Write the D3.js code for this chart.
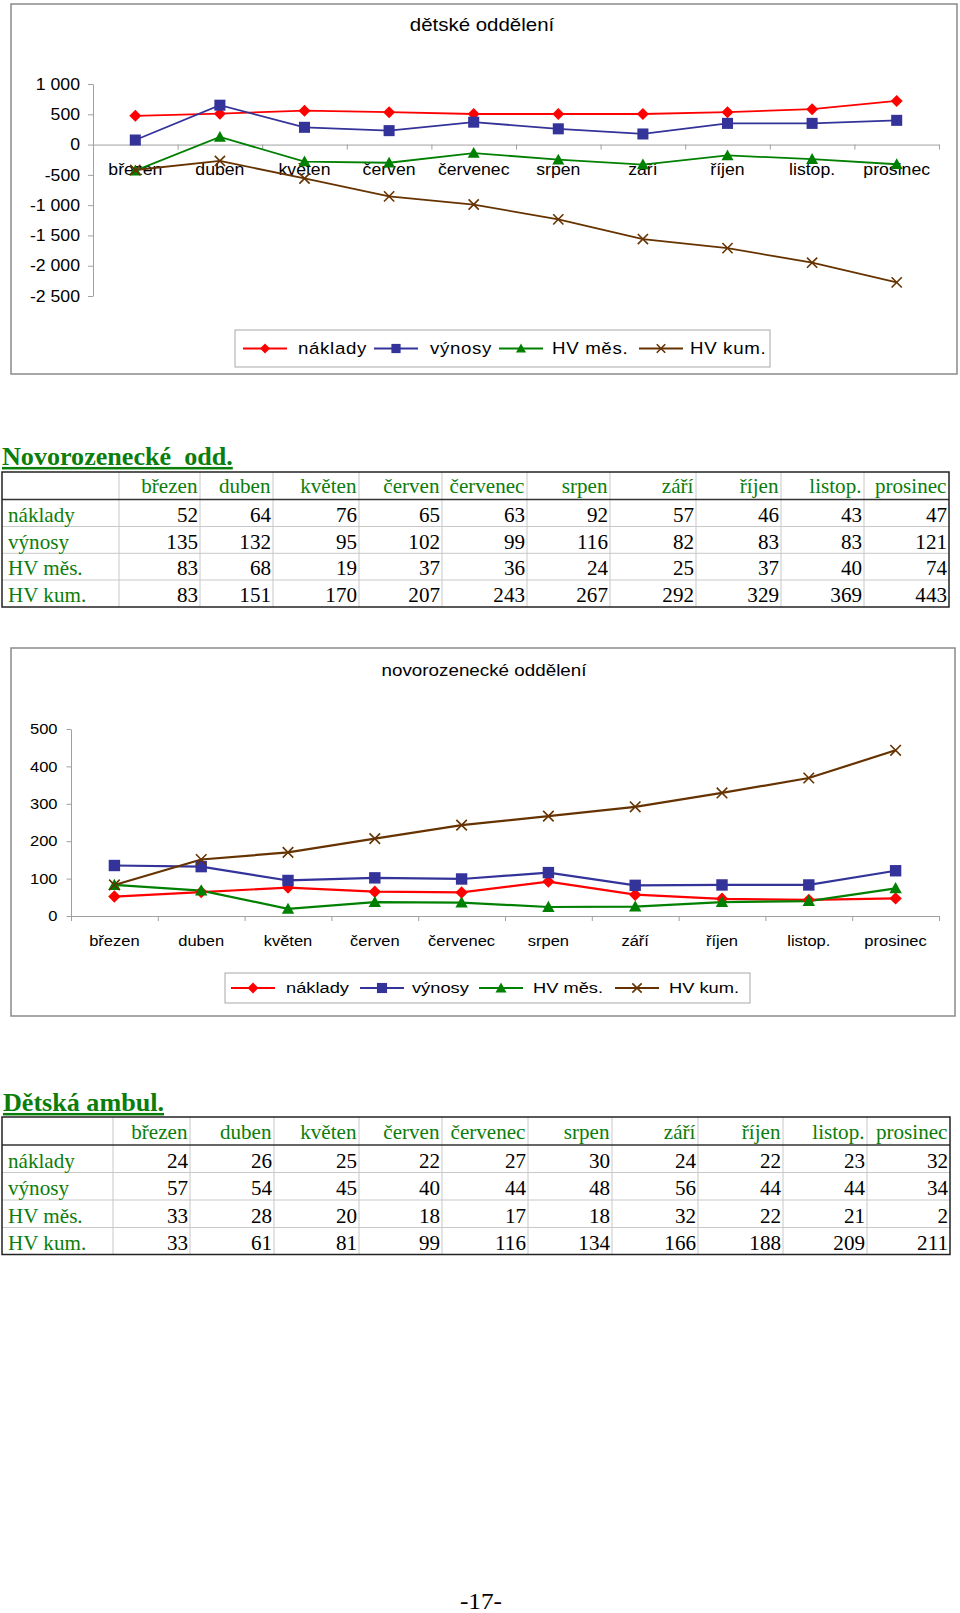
<!DOCTYPE html>
<html><head><meta charset="utf-8">
<script src="https://cdn.jsdelivr.net/npm/d3@7"></script>
<style>
body{margin:0;background:#fff}
svg{display:block}
.sans{font-family:"Liberation Sans",Arial,sans-serif}
.serif{font-family:"Liberation Serif","Times New Roman",serif}
</style>
</head><body>
<svg id="page" width="960" height="1613"></svg>
<script>
// ---------------- DATA ----------------
const months = ["březen","duben","květen","červen","červenec","srpen","září","říjen","listop.","prosinec"];
const seriesNames = ["náklady","výnosy","HV měs.","HV kum."];

// dětské oddělení
const det_naklady = [475, 510, 560, 535, 505, 505, 505, 535, 585, 720];
const det_vynosy  = [75, 650, 285, 230, 370, 260, 175, 350, 350, 400];
const det_hvmes   = [-430, 125, -280, -300, -140, -250, -330, -180, -240, -325];
const det_hvkum   = [-420, -270, -560, -855, -990, -1235, -1560, -1710, -1950, -2275];
const det_ticks   = [1000, 500, 0, -500, -1000, -1500, -2000, -2500];

// Novorozenecké odd.
const novo_naklady = [52, 64, 76, 65, 63, 92, 57, 46, 43, 47];
const novo_vynosy  = [135, 132, 95, 102, 99, 116, 82, 83, 83, 121];
const novo_hvmes   = [83, 68, 19, 37, 36, 24, 25, 37, 40, 74];
const novo_hvkum   = [83, 151, 170, 207, 243, 267, 292, 329, 369, 443];
const novo_ticks   = [0, 100, 200, 300, 400, 500];

// Dětská ambul.
const amb_naklady = [24, 26, 25, 22, 27, 30, 24, 22, 23, 32];
const amb_vynosy  = [57, 54, 45, 40, 44, 48, 56, 44, 44, 34];
const amb_hvmes   = [33, 28, 20, 18, 17, 18, 32, 22, 21, 2];
const amb_hvkum   = [33, 61, 81, 99, 116, 134, 166, 188, 209, 211];

// ---------------- STYLE ----------------
const colors = ["#FF0000", "#333399", "#008000", "#663300"];
const markerTypes = ["diamond", "square", "triangle", "x"];
const axisGray = "#a0a0a0";
const green = "#0b7d0b";

const svg = d3.select("#page");
const fmt = d3.formatLocale({decimal: ",", thousands: " ", grouping: [3], currency: ["", ""], minus: "-"}).format(",");

function stretch(sel, sx) {
  sel.each(function () {
    const t = d3.select(this);
    const x = +t.attr("x") || 0;
    t.attr("transform", `translate(${x},0) scale(${sx},1) translate(${-x},0)`);
  });
}

function marker(g, type, cx, cy, r, color) {
  if (type === "diamond") {
    g.append("path").attr("d", `M${cx},${cy - r}L${cx + r},${cy}L${cx},${cy + r}L${cx - r},${cy}Z`).attr("fill", color);
  } else if (type === "square") {
    g.append("rect").attr("x", cx - r * 0.92).attr("y", cy - r * 0.92).attr("width", r * 1.84).attr("height", r * 1.84).attr("fill", color);
  } else if (type === "triangle") {
    g.append("path").attr("d", `M${cx},${cy - r}L${cx + r},${cy + r * 0.8}L${cx - r},${cy + r * 0.8}Z`).attr("fill", color);
  } else {
    const k = r * 0.85;
    g.append("path").attr("d", `M${cx - k},${cy - k}L${cx + k},${cy + k}M${cx - k},${cy + k}L${cx + k},${cy - k}`)
      .attr("stroke", color).attr("stroke-width", 1.6).attr("fill", "none");
  }
}

function drawChart(c) {
  const g = svg.append("g").attr("class", "sans");
  g.append("rect").attr("x", c.frame[0]).attr("y", c.frame[1]).attr("width", c.frame[2] - c.frame[0]).attr("height", c.frame[3] - c.frame[1])
    .attr("fill", "#fff").attr("stroke", "#8a8a8a").attr("stroke-width", 1.5);

  const title = g.append("text").attr("x", c.titleX).attr("y", c.titleY).attr("text-anchor", "middle")
    .attr("font-size", c.titleSize).attr("fill", "#000").text(c.title);
  stretch(title, c.titleSx);

  const x = d3.scaleBand().domain(months).range([c.x0, c.x1]).padding(0);
  const bw = x.bandwidth();
  const y = d3.scaleLinear().domain(c.yDomain).range(c.yRange);

  // y axis
  const ya = g.append("g").attr("transform", `translate(${c.x0},0)`)
    .call(d3.axisLeft(y).tickValues(c.ticks).tickFormat(fmt).tickSize(c.tickSize).tickPadding(c.tickPad).tickSizeOuter(0));
  ya.selectAll("path,line").attr("stroke", axisGray);
  ya.selectAll("text").attr("font-size", c.labelSize).attr("fill", "#000").attr("font-family", null);
  stretch(ya.selectAll("text"), c.labelSx);

  // x axis line with boundary ticks
  const edge = d3.scaleLinear().domain([0, months.length]).range([c.x0, c.x1]);
  const xa = g.append("g").attr("transform", `translate(0,${y(0)})`)
    .call(d3.axisBottom(edge).tickValues(d3.range(months.length + 1)).tickFormat("").tickSize(5).tickSizeOuter(0));
  xa.selectAll("path,line").attr("stroke", axisGray);

  // category labels
  const lab = g.append("g").selectAll("text").data(months).join("text")
    .attr("x", d => x(d) + bw / 2).attr("y", c.catY).attr("text-anchor", "middle")
    .attr("font-size", c.labelSize).attr("fill", "#000").text(d => d);
  stretch(lab, c.labelSx);

  // series
  const line = d3.line().x((d, i) => x(months[i]) + bw / 2).y(d => y(d));
  c.series.forEach((s, k) => {
    g.append("path").attr("d", line(s)).attr("fill", "none").attr("stroke", colors[k]).attr("stroke-width", c.lineW);
  });
  c.series.forEach((s, k) => {
    const mg = g.append("g");
    s.forEach((v, i) => marker(mg, markerTypes[k], x(months[i]) + bw / 2, y(v), c.markR, colors[k]));
  });

  // legend
  const L = c.legend;
  g.append("rect").attr("x", L.box[0]).attr("y", L.box[1]).attr("width", L.box[2] - L.box[0]).attr("height", L.box[3] - L.box[1])
    .attr("fill", "#fff").attr("stroke", "#a8a8a8").attr("stroke-width", 1);
  const ly = (L.box[1] + L.box[3]) / 2;
  seriesNames.forEach((nm, k) => {
    g.append("line").attr("x1", L.lines[k]).attr("x2", L.lines[k] + 44).attr("y1", ly).attr("y2", ly)
      .attr("stroke", colors[k]).attr("stroke-width", c.lineW);
    marker(g, markerTypes[k], L.lines[k] + 22, ly, L.markR, colors[k]);
    const t = g.append("text").attr("x", L.texts[k]).attr("y", ly + L.textDy).attr("font-size", L.size)
      .attr("fill", "#000").attr("letter-spacing", L.spacing).text(nm);
    stretch(t, L.sx);
  });
}

function drawTable(c) {
  const g = svg.append("g").attr("class", "serif");
  const tt = g.append("text").attr("x", c.titleX).attr("y", c.titleY).attr("font-size", 25).attr("font-weight", "bold")
    .attr("fill", green).attr("text-decoration", "underline").style("white-space", "pre").text(c.title);
  stretch(tt, 1.045);

  const cols = c.cols, rows = c.rows;
  const left = cols[0], right = cols[cols.length - 1], top = rows[0], bottom = rows[rows.length - 1];
  // inner grid
  cols.slice(1, -1).forEach(xv => g.append("line").attr("x1", xv).attr("x2", xv).attr("y1", top).attr("y2", bottom).attr("stroke", "#c8c8c8").attr("stroke-width", 1));
  rows.slice(2, -1).forEach(yv => g.append("line").attr("x1", left).attr("x2", right).attr("y1", yv).attr("y2", yv).attr("stroke", "#c8c8c8").attr("stroke-width", 1));
  g.append("line").attr("x1", left).attr("x2", right).attr("y1", rows[1]).attr("y2", rows[1]).attr("stroke", "#333").attr("stroke-width", 1.3);
  g.append("rect").attr("x", left).attr("y", top).attr("width", right - left).attr("height", bottom - top)
    .attr("fill", "none").attr("stroke", "#222").attr("stroke-width", 1.5);

  const fs = 20.5, sx = 1.03;
  // header
  months.forEach((m, i) => {
    const t = g.append("text").attr("x", cols[i + 2] - 2.5).attr("y", rows[1] - 6).attr("text-anchor", "end")
      .attr("font-size", fs).attr("fill", green).text(m);
    stretch(t, sx);
  });
  seriesNames.forEach((nm, r) => {
    const by = rows[r + 2] - 4.5;
    const t = g.append("text").attr("x", left + 6).attr("y", by).attr("font-size", fs).attr("fill", green).text(nm);
    stretch(t, sx);
    c.data[r].forEach((v, i) => {
      const n = g.append("text").attr("x", cols[i + 2] - 2).attr("y", by).attr("text-anchor", "end")
        .attr("font-size", fs).attr("fill", "#000").text(v);
      stretch(n, sx);
    });
  });
}

// ---------------- CHART 1 ----------------
drawChart({
  frame: [11, 4, 957, 374],
  title: "dětské oddělení", titleX: 482, titleY: 31, titleSize: 17.5, titleSx: 1.17,
  x0: 93, x1: 939, yDomain: [-2500, 1000], yRange: [296, 84], ticks: det_ticks,
  tickSize: 5, tickPad: 8, labelSize: 16.5, labelSx: 1.07, catY: 175,
  series: [det_naklady, det_vynosy, det_hvmes, det_hvkum], lineW: 1.8, markR: 6,
  legend: {box: [235, 330, 770, 367], lines: [243, 374, 499, 639], texts: [298, 430, 552, 690],
           size: 17, sx: 1.1, spacing: 0.6, textDy: 6, markR: 5}
});

drawTable({
  title: "Novorozenecké  odd.", titleX: 2, titleY: 465,
  cols: [2, 119, 200, 273, 359, 442, 527, 610, 696, 781, 864, 949],
  rows: [472, 499.5, 526.5, 553.3, 580, 607],
  data: [novo_naklady, novo_vynosy, novo_hvmes, novo_hvkum]
});

// ---------------- CHART 2 ----------------
drawChart({
  frame: [11, 648, 955, 1016],
  title: "novorozenecké oddělení", titleX: 484, titleY: 676, titleSize: 16.5, titleSx: 1.14,
  x0: 71, x1: 939, yDomain: [0, 500], yRange: [916, 729], ticks: novo_ticks,
  tickSize: 4.5, tickPad: 9, labelSize: 14.5, labelSx: 1.14, catY: 946,
  series: [novo_naklady, novo_vynosy, novo_hvmes, novo_hvkum], lineW: 2.2, markR: 6.2,
  legend: {box: [225, 973, 750, 1003], lines: [231, 360, 479, 615], texts: [286, 412, 533, 669],
           size: 15.5, sx: 1.18, spacing: 0, textDy: 5.5, markR: 5.5}
});

drawTable({
  title: "Dětská ambul.", titleX: 3, titleY: 1111,
  cols: [2, 113, 190, 274, 359, 442, 528, 612, 698, 783, 867, 950],
  rows: [1117, 1145, 1172.5, 1200, 1227.5, 1254.5],
  data: [amb_naklady, amb_vynosy, amb_hvmes, amb_hvkum]
});

// page number
const pn = svg.append("text").attr("class", "serif").attr("x", 481).attr("y", 1609).attr("text-anchor", "middle")
  .attr("font-size", 23).attr("fill", "#000").text("-17-");
stretch(pn, 1.1);
</script>
</body></html>
